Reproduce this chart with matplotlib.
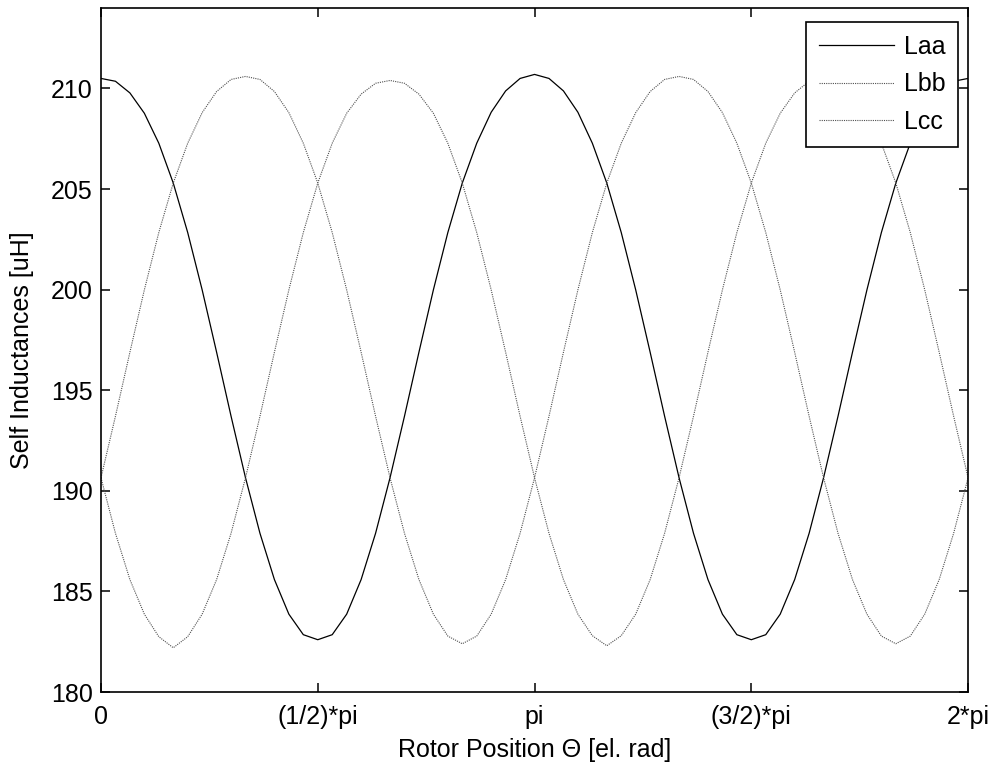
import numpy as np
import matplotlib
matplotlib.use('Agg')
import matplotlib.pyplot as plt

# Rotor angle samples (electrical degrees, 6 deg step)
theta_deg = np.arange(0, 361, 6)

# Self inductances in uH
Laa = [210.50, 210.36, 209.78, 208.77, 207.28, 205.30, 202.84, 199.99, 196.89, 193.71,
       190.65, 187.89, 185.59, 183.87, 182.85, 182.60, 182.85, 183.87, 185.59, 187.89,
       190.65, 193.71, 196.89, 199.99, 202.84, 205.30, 207.28, 208.82, 209.88, 210.50,
       210.70, 210.50, 209.88, 208.82, 207.28, 205.30, 202.84, 199.99, 196.89, 193.71,
       190.65, 187.89, 185.59, 183.87, 182.85, 182.60, 182.85, 183.87, 185.59, 187.89,
       190.65, 193.71, 196.89, 199.99, 202.84, 205.30, 207.28, 208.77, 209.78, 210.36,
       210.50]

Lbb = [190.65, 187.89, 185.59, 183.87, 182.75, 182.20, 182.75, 183.87, 185.59, 187.89,
       190.65, 193.71, 196.89, 199.99, 202.84, 205.30, 207.28, 208.77, 209.72, 210.26,
       210.40, 210.26, 209.72, 208.77, 207.28, 205.30, 202.84, 199.99, 196.89, 193.71,
       190.65, 187.89, 185.59, 183.87, 182.80, 182.30, 182.80, 183.87, 185.59, 187.89,
       190.65, 193.71, 196.89, 199.99, 202.84, 205.30, 207.28, 208.77, 209.78, 210.36,
       210.50, 210.36, 209.78, 208.77, 207.28, 205.30, 202.84, 199.99, 196.89, 193.71,
       190.65]

Lcc = [190.65, 193.71, 196.89, 199.99, 202.84, 205.30, 207.28, 208.80, 209.85, 210.45,
       210.60, 210.45, 209.85, 208.80, 207.28, 205.30, 202.84, 199.99, 196.89, 193.71,
       190.65, 187.89, 185.59, 183.87, 182.78, 182.40, 182.78, 183.87, 185.59, 187.89,
       190.65, 193.71, 196.89, 199.99, 202.84, 205.30, 207.28, 208.80, 209.85, 210.45,
       210.60, 210.45, 209.85, 208.80, 207.28, 205.30, 202.84, 199.99, 196.89, 193.71,
       190.65, 187.89, 185.59, 183.87, 182.78, 182.40, 182.78, 183.87, 185.59, 187.89,
       190.65]

xtick_labels = ['0', '(1/2)*pi', 'pi', '(3/2)*pi', '2*pi']

plt.rcParams['font.family'] = ['Liberation Sans', 'DejaVu Sans']
plt.rcParams['font.size'] = 18

fig = plt.figure(figsize=(9.97, 7.72), dpi=100)
ax = fig.add_axes([0.1013, 0.1036, 0.8697, 0.886])

theta = np.deg2rad(theta_deg)
ax.plot(theta, Laa, color='black', linewidth=0.9, label='Laa')
ax.plot(theta, Lbb, color='#505050', linewidth=0.8, linestyle=(0, (1, 1)), label='Lbb')
ax.plot(theta, Lcc, color='#505050', linewidth=0.8, linestyle=(0, (1, 1)), label='Lcc')

ax.set_xlim(0, 2 * np.pi)
ax.set_ylim(180, 214)
ax.set_xticks(np.arange(5) * np.pi / 2)
ax.set_xticklabels(xtick_labels)
ax.set_yticks(np.arange(180, 211, 5))

ax.tick_params(direction='in', length=6.5, width=1.1, top=True, right=True)
ax.tick_params(axis='x', pad=9)
ax.tick_params(axis='y', pad=6)
for s in ax.spines.values():
    s.set_linewidth(1.2)

ax.set_xlabel('Rotor Position \u0398 [el. rad]', labelpad=7)
ax.set_ylabel('Self Inductances [uH]', labelpad=12)

leg = ax.legend(loc='upper right', bbox_to_anchor=(0.9885, 0.9795), borderaxespad=0,
                fancybox=False, framealpha=1, edgecolor='black', handlelength=3.0,
                handletextpad=0.4, labelspacing=0.55, borderpad=0.5)
leg.get_frame().set_linewidth(1.2)

fig.savefig('out.png', dpi=100)
